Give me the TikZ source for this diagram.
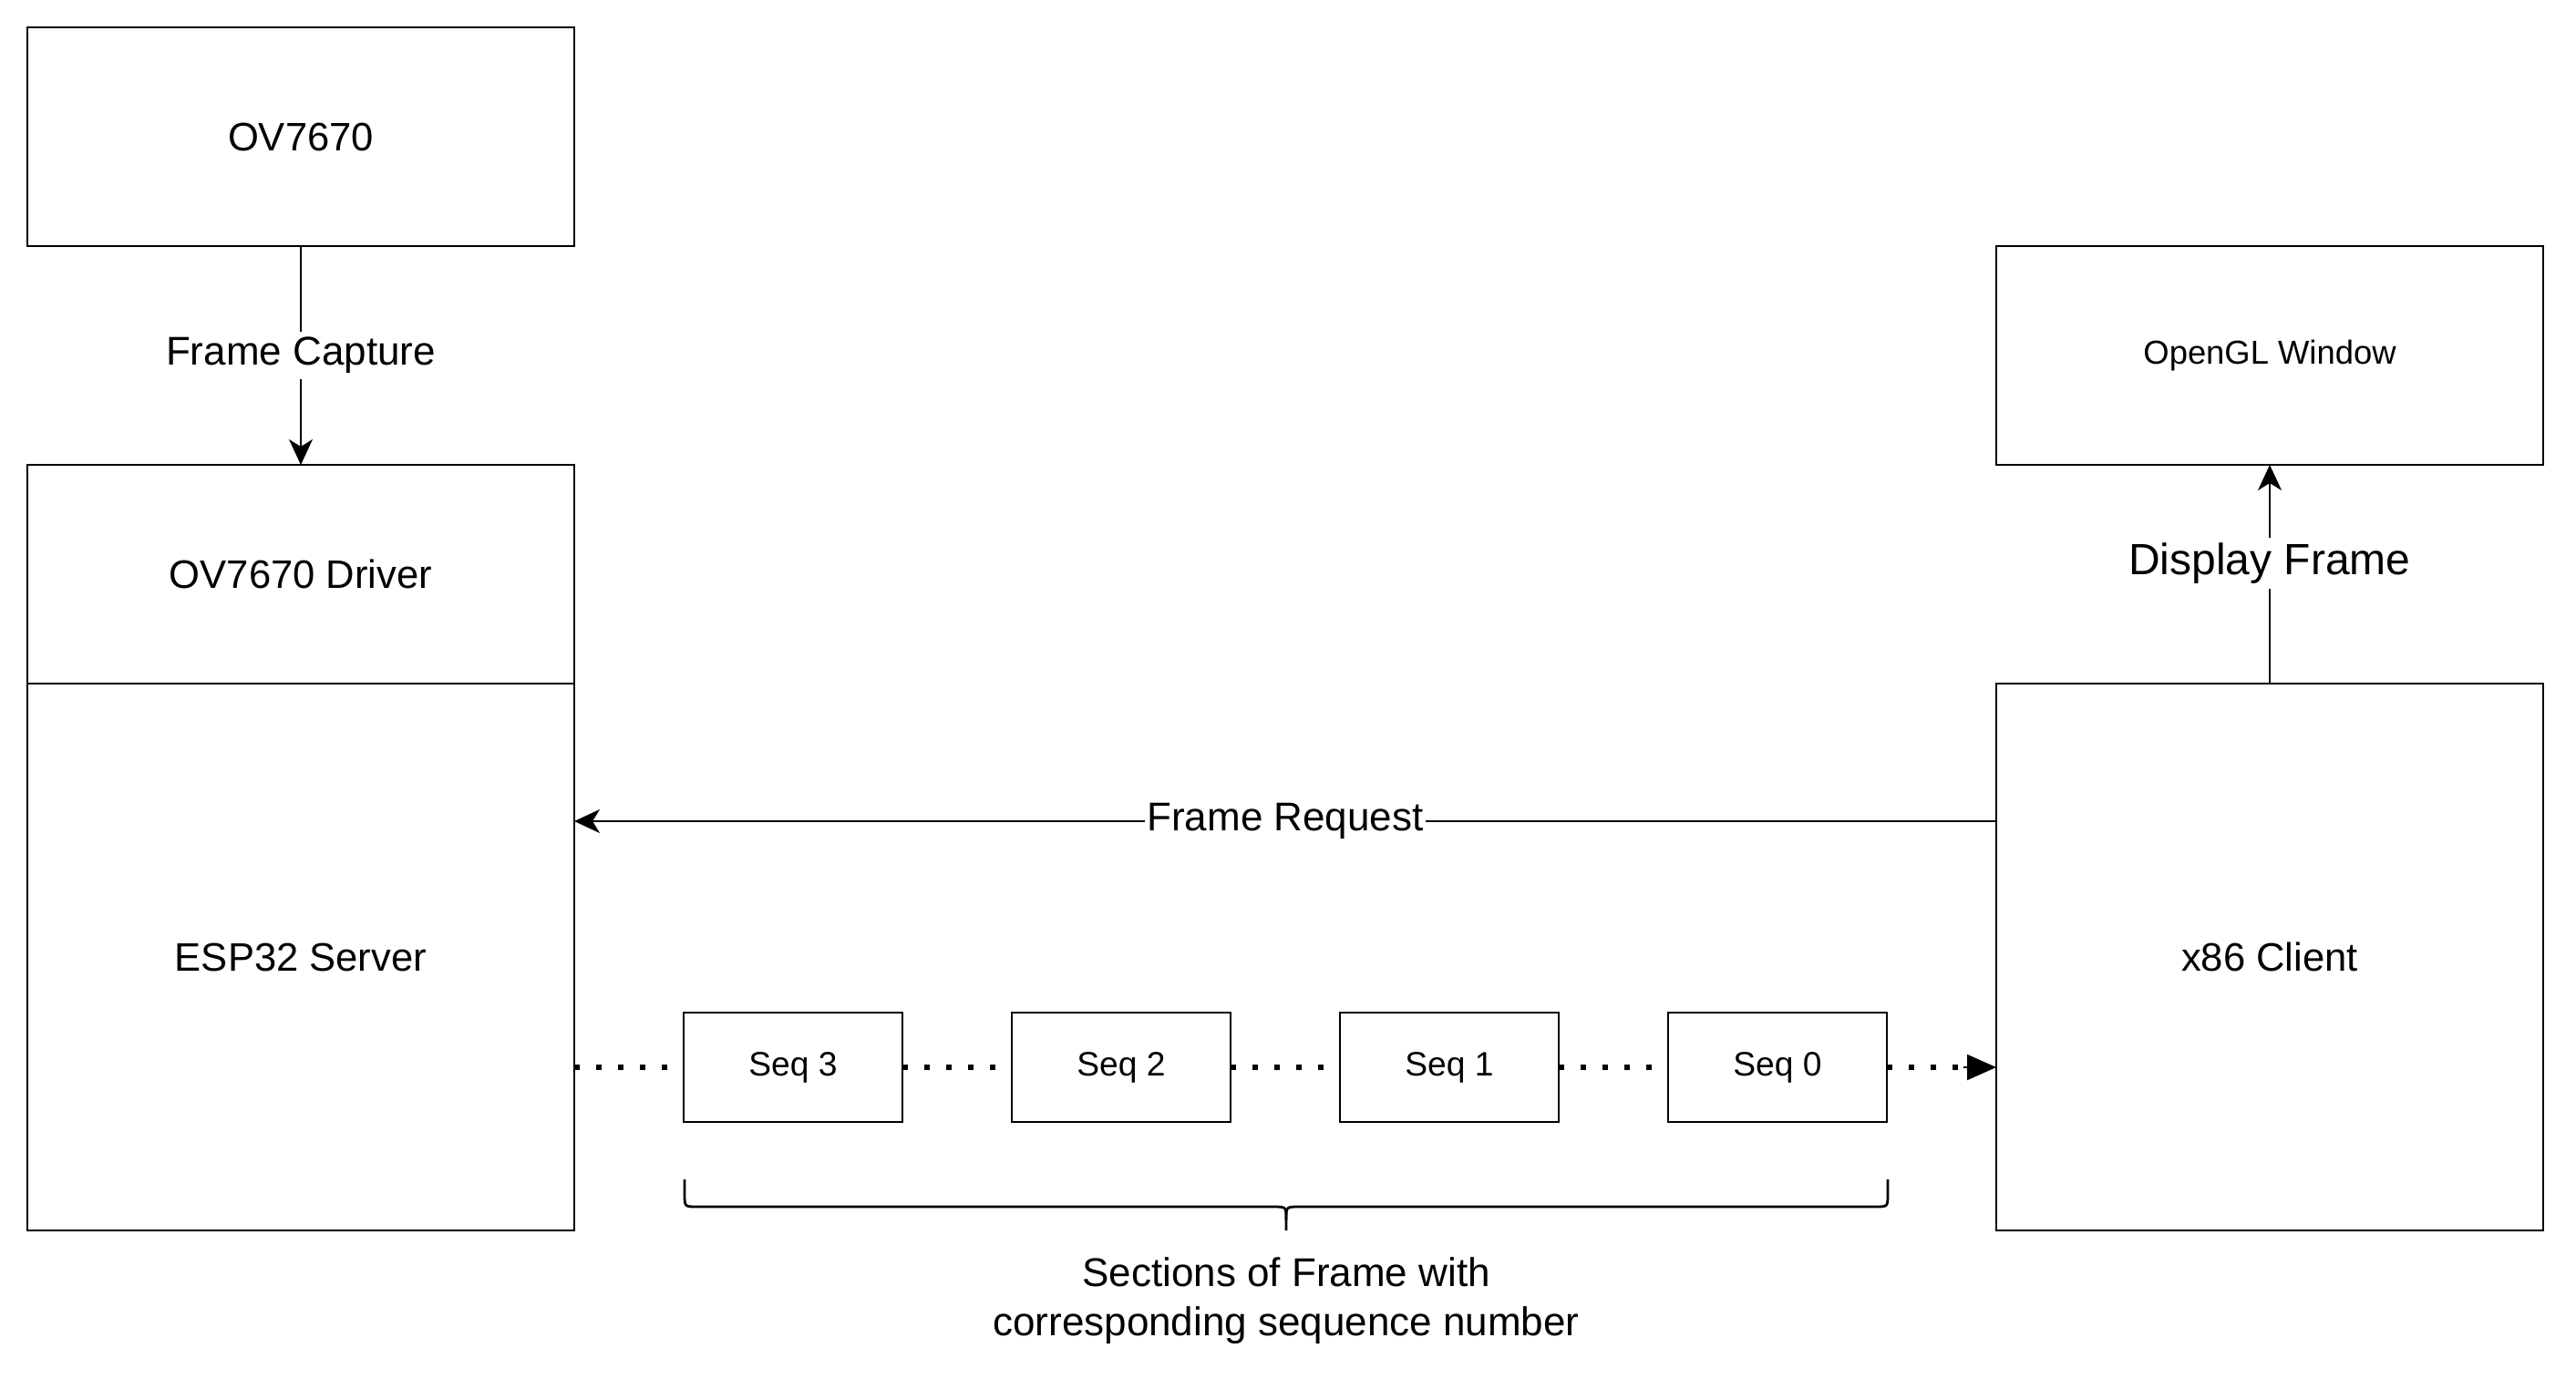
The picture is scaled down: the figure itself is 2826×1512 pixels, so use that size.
\documentclass[tikz,border=0pt]{standalone}
\usepackage{fontspec}
\setmainfont{Liberation Sans}
\usetikzlibrary{arrows.meta}
\begin{document}
\begin{tikzpicture}[x=0.25pt,y=-0.25pt,
  box/.style={draw, line width=0.7pt, inner sep=0pt, outer sep=0pt,
    minimum width=150pt, minimum height=60pt, font=\fontsize{10.9}{13}\selectfont},
  bigbox/.style={box, minimum height=150pt},
  seqbox/.style={draw, line width=0.7pt, inner sep=0pt, outer sep=0pt,
    minimum width=60pt, minimum height=30pt, font=\fontsize{9.3}{11}\selectfont},
  conn/.style={line width=0.5pt, -{Stealth[length=7pt,width=6.5pt,inset=2pt]}},
  dots/.style={line width=1.5pt, dash pattern=on 1.5pt off 4.5pt},
  lbl/.style={fill=white, inner sep=1.5pt, font=\fontsize{11}{13.2}\selectfont}]
\useasboundingbox (0,0) rectangle (2826,1512);

\node[box] (ov) at (330,150) {OV7670};
\node[box] (drv) at (330,630) {OV7670 Driver};
\node[bigbox] (esp) at (330,1050) {ESP32 Server};
\node[box, font=\fontsize{9.1}{10.9}\selectfont] (gl) at (2490,390) {OpenGL Window};
\node[bigbox] (x86) at (2490,1050) {x86 Client};

\node[seqbox] (s3) at (870,1171) {Seq 3};
\node[seqbox] (s2) at (1230,1171) {Seq 2};
\node[seqbox] (s1) at (1590,1171) {Seq 1};
\node[seqbox] (s0) at (1950,1171) {Seq 0};

% Frame Capture
\draw[conn] (ov.south) -- node[lbl] {Frame Capture} (drv.north);
% Display Frame
\draw[conn] (x86.north) -- node[lbl, pos=0.55, font=\fontsize{12}{14.4}\selectfont] {Display Frame} (gl.south);
% Frame Request
\coordinate (frS) at ([yshift=-37.75pt]x86.north west);
\coordinate (frE) at ([yshift=-37.75pt]esp.north east);
\draw[conn] (frS) -- node[lbl, inner xsep=0.5pt] {Frame Request} (frE);

% dotted chain
\draw[dots] (esp.east |- s3.west) -- (s3.west);
\draw[dots] (s3.east) -- (s2.west);
\draw[dots] (s2.east) -- (s1.west);
\draw[dots] (s1.east) -- (s0.west);
\draw[dots] (s0.east) -- ([xshift=-8pt]x86.west |- s0.east);
\draw[line width=0.5pt, -{Triangle[length=8pt,width=7pt]}] ([xshift=-9pt]x86.west |- s0.east) -- (x86.west |- s0.east);

% brace
\coordinate (bl) at (751,1294);
\coordinate (br) at (2071,1294);
\coordinate (bm) at (1411,1350);
\draw[line width=0.7pt]
  (bl) -- (751,1310) .. controls (751,1324) .. (765,1324) -- (1397,1324)
  .. controls (1411,1324) .. (1411,1338) -- (bm);
\draw[line width=0.7pt]
  (br) -- (2071,1310) .. controls (2071,1324) .. (2057,1324) -- (1425,1324)
  .. controls (1411,1324) .. (1411,1338);

\node[align=center, font=\fontsize{11}{13.5}\selectfont, anchor=center] (cap) at (1411,1427)
  {Sections of Frame with\\corresponding sequence number};
\end{tikzpicture}
\end{document}
